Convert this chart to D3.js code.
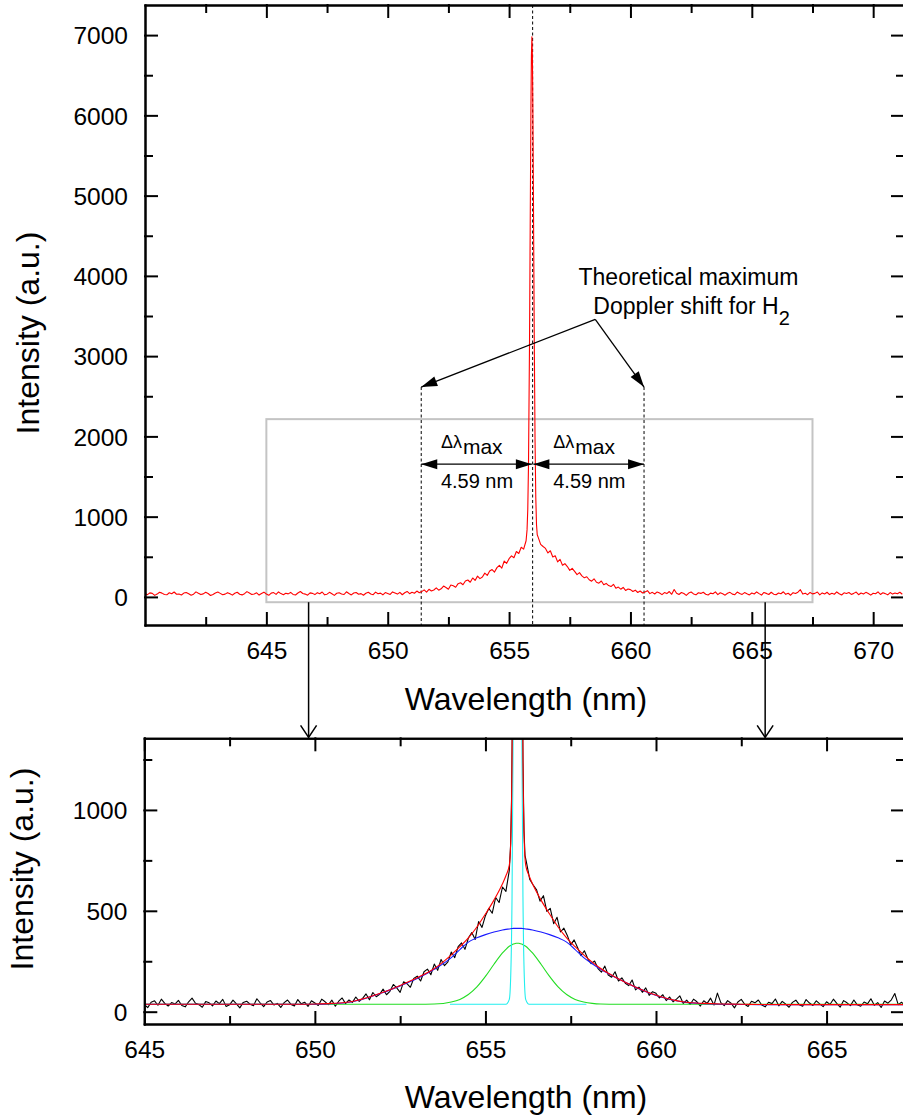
<!DOCTYPE html>
<html>
<head>
<meta charset="utf-8">
<script src="https://cdn.jsdelivr.net/npm/d3@7"></script>
<style>
	body { margin: 0; background: #fff; }
	svg { display: block; font-family: "Liberation Sans", Arial, sans-serif; }
</style>
</head>
<body>
<svg id="chart" width="903" height="1119"></svg>
<script>

// measured spectrum, 0.1 nm steps from 640.0 nm
const specStart = 640.0
const specStep = 0.1
const specCounts = [
	41, 28, 50, 44, 19, 35, 58, 47, 30, 26,
	52, 39, 61, 33, 36, 24, 48, 55, 40, 21,
	34, 63, 45, 29, 38, 57, 42, 18, 31, 49,
	60, 44, 27, 35, 53, 39, 22, 46, 58, 33,
	25, 40, 66, 48, 30, 37, 51, 23, 43, 59,
	36, 20, 47, 54, 32, 62, 41, 28, 45, 38,
	56, 31, 24, 49, 67, 42, 35, 22, 50, 44,
	29, 53, 40, 61, 26, 34, 57, 39, 19, 46,
	52, 37, 30, 64, 43, 25, 48, 55, 33, 41,
	21, 45, 58, 36, 28, 60, 39, 47, 26, 54,
	43, 31, 62, 49, 35, 57, 27, 52, 68, 40,
	58, 46, 73, 51, 66, 88, 59, 95, 74, 86,
	112, 84, 101, 135, 118, 96, 148, 139, 121, 165,
	176, 152, 198, 211, 183, 236, 205, 259, 228, 247,
	296, 268, 322, 341, 309, 365, 392, 358, 447, 418,
	476, 512, 488, 566, 541, 618, 596, 700, 1654, 6085,
	5142, 1240, 742, 655, 628, 604, 548, 575, 497, 512,
	436, 468, 395, 414, 378, 331, 356, 318, 278, 302,
	262, 238, 251, 214, 196, 226, 182, 171, 198, 152,
	168, 141, 129, 157, 108, 122, 96, 118, 81, 99,
	91, 68, 84, 55, 73, 49, 62, 78, 41, 57,
	36, 62, 49, 28, 54, 41, 67, 33, 92, 45,
	30, 55, 42, 19, 48, 61, 37, 26, 52, 44,
	58, 33, 24, 47, 40, 63, 29, 51, 38, 22,
	46, 57, 35, 27, 60, 43, 31, 54, 39, 25,
	49, 36, 62, 41, 23, 55, 44, 30, 58, 34,
	27, 48, 39, 64, 32, 45, 21, 53, 42, 59,
	90, 35, 47, 28, 56, 38, 44, 61, 25, 50,
	37, 58, 29, 46, 33, 62, 40, 24, 51, 43,
	55, 31, 44, 60, 27, 49, 36, 57, 42, 22,
	46, 39, 63, 30, 52, 41, 26, 54, 35, 48,
	40, 58, 33
]

// extra samples across the narrow H-alpha peak
const peakWl = [655.74, 655.77, 655.84, 655.87, 655.92, 655.94, 655.96, 655.98, 656.02, 656.04, 656.07, 656.13, 656.16]
const peakCounts = [835, 1093, 3100, 4615, 6745, 6980, 6745, 6085, 4091, 3100, 1936, 898, 775]

// fitted curves (lower panel)
const fitWl = [645, 646, 647, 648, 649, 649.5, 650, 650.5, 651, 651.5, 652, 652.5, 653, 653.5, 654,
	654.25, 654.5, 654.75, 655, 655.25, 655.5, 655.6, 655.7, 655.74, 655.78, 655.82, 655.86, 655.9,
	655.94, 655.98, 656.02, 656.06, 656.1, 656.14, 656.18, 656.28, 656.38, 656.63, 656.88, 657.13,
	657.38, 657.63, 657.88, 658.13, 658.38, 658.88, 659.38, 659.88, 660.38, 660.88, 661.38, 661.88,
	662.5, 663, 664, 665, 666, 667, 667.5]
const fitTotal = [37, 37, 37, 37, 37, 37, 38, 41, 48, 68, 96, 130, 168, 214, 282,
	322, 366, 420, 484, 553, 634, 674, 726, 835, 1240, 2272, 4091, 6085,
	6980, 6085, 4091, 2272, 1240, 835, 726, 674, 634, 553, 484, 420,
	366, 322, 282, 246, 214, 165, 124, 89, 63, 47, 41, 38,
	37, 36, 35, 35, 35, 35, 35]
const fitBroad = [37, 37, 37, 37, 37, 37, 37, 40, 47, 67, 95, 128, 164, 210, 268,
	308, 345, 366, 382, 395, 405, 408, 410, 411, 412, 413, 413, 413,
	413, 413, 413, 413, 412, 411, 410, 408, 405, 395, 382, 366,
	345, 308, 268, 238, 210, 164, 123, 88, 62, 46, 40, 37,
	36, 35, 35, 35, 35, 35, 35]
const fitMiddle = [37, 37, 37, 37, 37, 37, 37, 37, 37, 37, 37, 37, 37, 38, 48,
	61, 85, 123, 175, 235, 291, 309, 324, 328, 332, 335, 337, 339,
	339, 339, 337, 335, 332, 328, 324, 309, 291, 235, 175, 123,
	85, 61, 48, 41, 38, 37, 37, 37, 37, 37, 37, 37,
	37, 37, 37, 37, 37, 37, 37]
const narrowWl = [653.96, 655.6, 655.7, 655.74, 655.78, 655.82, 655.86, 655.9, 655.94, 655.98, 656.02, 656.06, 656.1, 656.14, 656.18, 656.28, 657.96]
const narrowI = [37, 37, 61, 169, 568, 1600, 3417, 5407, 6302, 5407, 3417, 1600, 568, 169, 61, 37, 37]

// annotation values (nm, a.u.)
const lineCenter = 655.97
const dLambda = 4.59
const zoomBox = { wl: [645, 667.5], i: [-66, 2215] }
const zoomArrowWl = [646.74, 665.55]

const topXMajor = [645, 650, 655, 660, 665, 670]
const topXMinor = [642.5, 647.5, 652.5, 657.5, 662.5, 667.5]
const topYMajor = [0, 1000, 2000, 3000, 4000, 5000, 6000, 7000]
const topYMinor = [500, 1500, 2500, 3500, 4500, 5500, 6500]
const botXMajor = [645, 650, 655, 660, 665]
const botXMinor = [647.5, 652.5, 657.5, 662.5]
const botYMajor = [0, 500, 1000]
const botYMinor = [250, 750, 1250]

const font = '"Liberation Sans", Arial, sans-serif'
const svg = d3.select('#chart')

svg.append('rect').attr('width', 903).attr('height', 1119).attr('fill', '#fff')

const xTop = d3.scaleLinear().domain([640, 671.27]).range([145, 904])
const yTop = d3.scaleLinear().domain([-350, 7375]).range([625, 5])
const xBot = d3.scaleLinear().domain([645, 667.27]).range([144.3, 904])
const yBot = d3.scaleLinear().domain([-61, 1355]).range([1024, 738.3])

// build spectrum points
let spectrum = specCounts.map((v, i) => ({ wl: specStart + i * specStep, v: v }))
peakWl.forEach((w, i) => spectrum.push({ wl: w, v: peakCounts[i] }))
spectrum.sort((a, b) => a.wl - b.wl)

const fitTotalPts = fitWl.map((w, i) => ({ wl: w, v: fitTotal[i] }))
const fitBroadPts = fitWl.map((w, i) => ({ wl: w, v: fitBroad[i] }))
const fitMiddlePts = fitWl.map((w, i) => ({ wl: w, v: fitMiddle[i] }))
const narrowPts = narrowWl.map((w, i) => ({ wl: w, v: narrowI[i] }))

function clipFor(id, x, y) {
	svg.append('clipPath').attr('id', id)
		.append('rect')
		.attr('x', x.range()[0])
		.attr('y', y.range()[1])
		.attr('width', x.range()[1] - x.range()[0])
		.attr('height', y.range()[0] - y.range()[1])
	return 'url(#' + id + ')'
}

function plotLine(group, pts, x, y, color, curve) {
	const line = d3.line()
		.x(d => x(d.wl))
		.y(d => y(d.v))
		.curve(curve || d3.curveLinear)

	group.append('path')
		.datum(pts)
		.attr('fill', 'none')
		.attr('stroke', color)
		.attr('stroke-width', 1.1)
		.attr('stroke-linejoin', 'round')
		.attr('d', line)
}

function drawFrame(x, y, xMajor, xMinor, yMajor, yMinor) {
	const [x0, x1] = x.range()
	const [y0, y1] = y.range()
	const frame = svg.append('g').attr('class', 'frame')

	const bottom = frame.append('g').attr('transform', 'translate(0,' + y0 + ')')
	bottom.call(d3.axisBottom(x).tickValues(xMajor).tickSize(-12).tickSizeOuter(0).tickPadding(17).tickFormat(d3.format('d')))
	bottom.append('g').call(d3.axisBottom(x).tickValues(xMinor).tickSize(-7).tickSizeOuter(0).tickFormat(''))

	const top = frame.append('g').attr('transform', 'translate(0,' + y1 + ')')
	top.call(d3.axisTop(x).tickValues(xMajor).tickSize(-12).tickSizeOuter(0).tickFormat(''))
	top.append('g').call(d3.axisTop(x).tickValues(xMinor).tickSize(-7).tickSizeOuter(0).tickFormat(''))

	const left = frame.append('g').attr('transform', 'translate(' + x0 + ',0)')
	left.call(d3.axisLeft(y).tickValues(yMajor).tickSize(-12).tickSizeOuter(0).tickPadding(17).tickFormat(d3.format('d')))
	left.append('g').call(d3.axisLeft(y).tickValues(yMinor).tickSize(-7).tickSizeOuter(0).tickFormat(''))

	const right = frame.append('g').attr('transform', 'translate(' + x1 + ',0)')
	right.call(d3.axisRight(y).tickValues(yMajor).tickSize(-12).tickSizeOuter(0).tickFormat(''))
	right.append('g').call(d3.axisRight(y).tickValues(yMinor).tickSize(-7).tickSizeOuter(0).tickFormat(''))

	frame.selectAll('g').attr('font-family', null).attr('font-size', null)
	frame.selectAll('path, line')
		.attr('stroke', '#000')
		.attr('stroke-width', 2)
		.attr('stroke-linecap', 'square')
	frame.selectAll('text')
		.attr('fill', '#000')
		.attr('font-family', font)
		.attr('font-size', 24.5)
	left.selectAll('text').attr('dy', '0.36em')
}

function filledHead(tipX, tipY, fromX, fromY, len, half) {
	const dx = fromX - tipX, dy = fromY - tipY
	const n = Math.sqrt(dx * dx + dy * dy)
	const ux = dx / n, uy = dy / n
	const bx = tipX + ux * len, by = tipY + uy * len
	const pts = [[tipX, tipY], [bx - uy * half, by + ux * half], [bx + uy * half, by - ux * half]]
	svg.append('polygon')
		.attr('points', pts.map(p => p.join(',')).join(' '))
		.attr('fill', '#000')
}

function arrowLine(x1, y1, x2, y2, bothEnds) {
	svg.append('line')
		.attr('x1', x1).attr('y1', y1)
		.attr('x2', x2).attr('y2', y2)
		.attr('stroke', '#000')
		.attr('stroke-width', 1.3)
	filledHead(x2, y2, x1, y1, 16, 5)
	if (bothEnds) filledHead(x1, y1, x2, y2, 16, 5)
}

function dashed(x, yA, yB) {
	svg.append('line')
		.attr('x1', x).attr('x2', x)
		.attr('y1', yA).attr('y2', yB)
		.attr('stroke', '#000')
		.attr('stroke-width', 1)
		.attr('stroke-dasharray', '3,2.5')
}

// ---------- upper panel ----------

svg.append('rect')
	.attr('x', xTop(zoomBox.wl[0]))
	.attr('y', yTop(zoomBox.i[1]))
	.attr('width', xTop(zoomBox.wl[1]) - xTop(zoomBox.wl[0]))
	.attr('height', yTop(zoomBox.i[0]) - yTop(zoomBox.i[1]))
	.attr('fill', 'none')
	.attr('stroke', '#c4c4c4')
	.attr('stroke-width', 2)

const tipI = 2615
dashed(xTop(lineCenter), yTop.range()[1], yTop.range()[0])
dashed(xTop(lineCenter - dLambda), yTop(tipI), yTop.range()[0])
dashed(xTop(lineCenter + dLambda), yTop(tipI), yTop.range()[0])

const topData = svg.append('g').attr('clip-path', clipFor('clipTop', xTop, yTop))
plotLine(topData, spectrum, xTop, yTop, '#ff0000')

// annotation
const leader = { wl: 658.55, i: 3457 }
arrowLine(xTop(leader.wl), yTop(leader.i), xTop(lineCenter - dLambda), yTop(tipI), false)
arrowLine(xTop(leader.wl), yTop(leader.i), xTop(lineCenter + dLambda), yTop(tipI), false)

svg.append('text')
	.attr('x', xTop(657.86)).attr('y', yTop(3886))
	.attr('font-size', 23)
	.text('Theoretical maximum')

const doppler = svg.append('text')
	.attr('x', xTop(658.47)).attr('y', yTop(3525))
	.attr('font-size', 23)
	.text('Doppler shift for H')
doppler.append('tspan').attr('font-size', 20).attr('dy', 11).text('2')

const arrowI = 1654
arrowLine(xTop(lineCenter - dLambda), yTop(arrowI), xTop(lineCenter - 0.03), yTop(arrowI), true)
arrowLine(xTop(lineCenter + 0.03), yTop(arrowI), xTop(lineCenter + dLambda), yTop(arrowI), true)

;[652.19, 656.82].forEach(function(w) {
	const t = svg.append('text')
		.attr('x', xTop(w)).attr('y', yTop(1851))
		.attr('font-size', 18)
		.text('\u0394\u03bb')
	t.append('tspan').attr('font-size', 21).attr('dy', 5.7).attr('dx', 1).text('max')

	svg.append('text')
		.attr('x', xTop(w)).attr('y', yTop(1353))
		.attr('font-size', 20)
		.text(dLambda + ' nm')
})

drawFrame(xTop, yTop, topXMajor, topXMinor, topYMajor, topYMinor)

svg.append('text')
	.attr('x', 526).attr('y', 710)
	.attr('text-anchor', 'middle')
	.attr('font-size', 32)
	.text('Wavelength (nm)')

svg.append('text')
	.attr('transform', 'translate(39,333) rotate(-90)')
	.attr('text-anchor', 'middle')
	.attr('font-size', 32)
	.text('Intensity (a.u.)')

// arrows from the grey box down to the zoomed panel
zoomArrowWl.forEach(function(w) {
	const ax = xTop(w)
	const ay0 = yTop(zoomBox.i[0])
	const ay1 = yBot.range()[1] - 1
	svg.append('line')
		.attr('x1', ax).attr('x2', ax)
		.attr('y1', ay0).attr('y2', ay1)
		.attr('stroke', '#000')
		.attr('stroke-width', 1.5)
	svg.append('polyline')
		.attr('points', [[ax - 8, ay1 - 12], [ax, ay1], [ax + 8, ay1 - 12]].map(p => p.join(',')).join(' '))
		.attr('fill', 'none')
		.attr('stroke', '#000')
		.attr('stroke-width', 1.5)
})

// ---------- lower panel ----------

const botData = svg.append('g').attr('clip-path', clipFor('clipBot', xBot, yBot))
plotLine(botData, spectrum, xBot, yBot, '#000000')
plotLine(botData, fitMiddlePts, xBot, yBot, '#22dd22', d3.curveMonotoneX)
plotLine(botData, narrowPts, xBot, yBot, '#22eeee', d3.curveMonotoneX)
plotLine(botData, fitBroadPts, xBot, yBot, '#1a1aff', d3.curveMonotoneX)
plotLine(botData, fitTotalPts, xBot, yBot, '#ff0000', d3.curveMonotoneX)

drawFrame(xBot, yBot, botXMajor, botXMinor, botYMajor, botYMinor)

svg.append('text')
	.attr('x', 526).attr('y', 1108)
	.attr('text-anchor', 'middle')
	.attr('font-size', 32)
	.text('Wavelength (nm)')

svg.append('text')
	.attr('transform', 'translate(33,869) rotate(-90)')
	.attr('text-anchor', 'middle')
	.attr('font-size', 32)
	.text('Intensity (a.u.)')

</script>
</body>
</html>
